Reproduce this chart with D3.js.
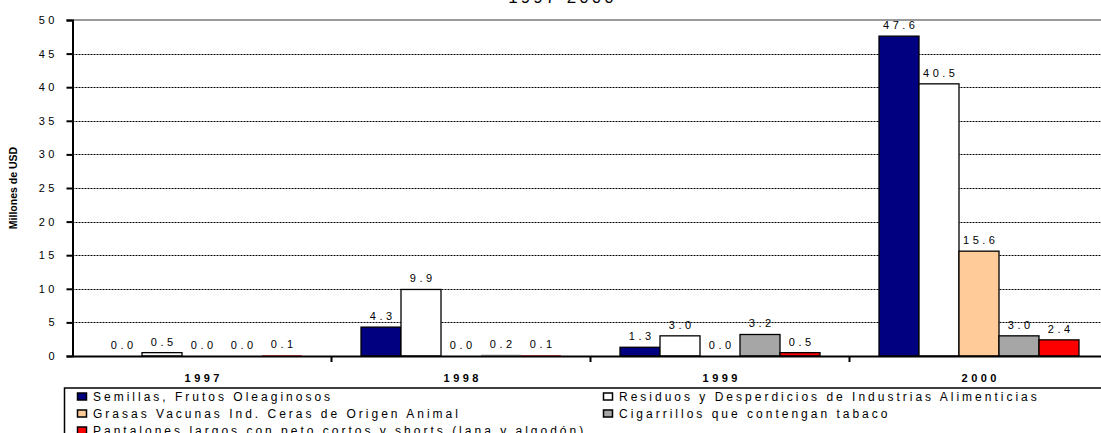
<!DOCTYPE html>
<html>
<head>
<meta charset="utf-8">
<script src="https://cdn.jsdelivr.net/npm/d3@7"></script>
<style>
  html, body { margin: 0; padding: 0; background: #fff; }
  svg { display: block; font-family: Arial, "Liberation Sans", sans-serif; }
</style>
</head>
<body>
<svg id="chart" width="1101" height="433"></svg>
<script>
const years = ["1997", "1998", "1999", "2000"];
const seriesNames = [
  "Semillas, Frutos Oleaginosos",
  "Residuos y Desperdicios de Industrias Alimenticias",
  "Grasas Vacunas Ind. Ceras de Origen Animal",
  "Cigarrillos que contengan tabaco",
  "Pantalones largos,con peto,cortos y shorts (lana y algodón)"
];
const seriesColors = ["#000080", "#FFFFFF", "#FFCC99", "#A6A6A6", "#FF0000"];
const semillas   = [0.0, 4.3, 1.3, 47.6];
const residuos   = [0.5, 9.9, 3.0, 40.5];
const grasas     = [0.0, 0.0, 0.0, 15.6];
const cigarrillos= [0.0, 0.2, 3.2, 3.0];
const pantalones = [0.1, 0.1, 0.5, 2.4];
const seriesValues = [semillas, residuos, grasas, cigarrillos, pantalones];
const yTicks = [0, 5, 10, 15, 20, 25, 30, 35, 40, 45, 50];
const titleText = "1997-2000";
const yTitle = "Millones de USD";

const svg = d3.select("#chart");
const FONT = 'Arial, "Liberation Sans", sans-serif';
const LS = 3.5;

const x0 = d3.scaleBand().domain(years).range([72.5, 1108.5]).paddingInner(0).paddingOuter(0);
const x1 = d3.scaleBand().domain(d3.range(seriesNames.length)).range([0, x0.bandwidth()]).paddingInner(0).paddingOuter(0.7375);
const y = d3.scaleLinear().domain([0, 50]).range([356, 20]);

// title (cut off at top)
svg.append("text").attr("x", 561 + 1.5).attr("y", 3).attr("text-anchor", "middle")
  .attr("font-size", 17).attr("letter-spacing", 3).attr("fill", "#000").text(titleText);

// gridlines
const grid = svg.append("g");
grid.selectAll("line").data(yTicks.filter(t => t > 0 && t < 50)).join("line")
  .attr("x1", 72.5).attr("x2", 1101).attr("y1", d => Math.round(y(d)) + 0.5).attr("y2", d => Math.round(y(d)) + 0.5)
  .attr("stroke", "#000").attr("stroke-width", 1).attr("stroke-dasharray", "2,1");
grid.append("line").attr("x1", 72.5).attr("x2", 1101).attr("y1", y(50)).attr("y2", y(50))
  .attr("stroke", "#9a9a9a").attr("stroke-width", 2);

// bars
const data = [];
years.forEach((yr, i) => seriesValues.forEach((vals, s) => data.push({ yr, s, v: vals[i] })));
const bars = svg.append("g");
bars.selectAll("rect").data(data.filter(d => d.v > 0)).join("rect")
  .attr("x", d => x0(d.yr) + x1(d.s))
  .attr("y", d => y(d.v))
  .attr("width", x1.bandwidth())
  .attr("height", d => y(0) - y(d.v))
  .attr("fill", d => seriesColors[d.s])
  .attr("stroke", "#000").attr("stroke-width", d => (y(0) - y(d.v)) < 2 ? 0 : 1.3);

// data labels
svg.append("g").selectAll("text").data(data).join("text")
  .attr("x", d => x0(d.yr) + x1(d.s) + x1.bandwidth() / 2 + LS / 2)
  .attr("y", d => y(d.v) - 7)
  .attr("text-anchor", "middle").attr("font-size", 11).attr("letter-spacing", LS)
  .attr("fill", "#000").text(d => d.v.toFixed(1));

// y axis
const yAxis = d3.axisLeft(y).tickValues(yTicks).tickSize(6).tickPadding(12).tickFormat(d3.format("d"));
const yg = svg.append("g").attr("transform", "translate(72.5,0)").call(yAxis);
yg.select(".domain").attr("stroke", "#000").attr("stroke-width", 2);
yg.selectAll(".tick line").attr("stroke", "#000").attr("stroke-width", 2);
yg.selectAll(".tick text").attr("font-family", FONT).attr("font-size", 11)
  .attr("letter-spacing", LS).attr("fill", "#000").attr("dx", LS);

// x axis
const xAxis = d3.axisBottom(x0).tickSize(0).tickPadding(18);
const xg = svg.append("g").attr("transform", "translate(0,356)").call(xAxis);
xg.select(".domain").attr("stroke", "#000").attr("stroke-width", 2);
xg.selectAll(".tick text").attr("font-family", FONT).attr("font-size", 11).attr("font-weight", "bold")
  .attr("letter-spacing", LS).attr("fill", "#000").attr("dx", LS / 2);
// boundary ticks between categories
xg.append("g").selectAll("line").data(years.slice(1)).join("line")
  .attr("x1", d => x0(d)).attr("x2", d => x0(d)).attr("y1", 0).attr("y2", 6)
  .attr("stroke", "#000").attr("stroke-width", 2);

// y title
svg.append("text").attr("transform", "translate(17,188) rotate(-90)")
  .attr("text-anchor", "middle").attr("font-size", 10.5).attr("font-weight", "bold")
  .attr("fill", "#000").text(yTitle);

// legend
const lg = svg.append("g");
lg.append("rect").attr("x", 64.5).attr("y", 388).attr("width", 1100).attr("height", 60)
  .attr("fill", "#fff").attr("stroke", "#000").attr("stroke-width", 1.5);
const legPos = [[77, 396.5], [603, 396.5], [77, 413.5], [603, 413.5], [77, 430.5]];
seriesNames.forEach((name, i) => {
  const [lx, ly] = legPos[i];
  lg.append("rect").attr("x", lx + 0.5).attr("y", ly - 3.5).attr("width", 9).attr("height", 7)
    .attr("fill", seriesColors[i]).attr("stroke", "#000").attr("stroke-width", 1.5);
  lg.append("text").attr("x", lx + 16).attr("y", ly + 4.5).attr("font-size", 12)
    .attr("letter-spacing", 3).attr("fill", "#000").text(name);
});
</script>
</body>
</html>
